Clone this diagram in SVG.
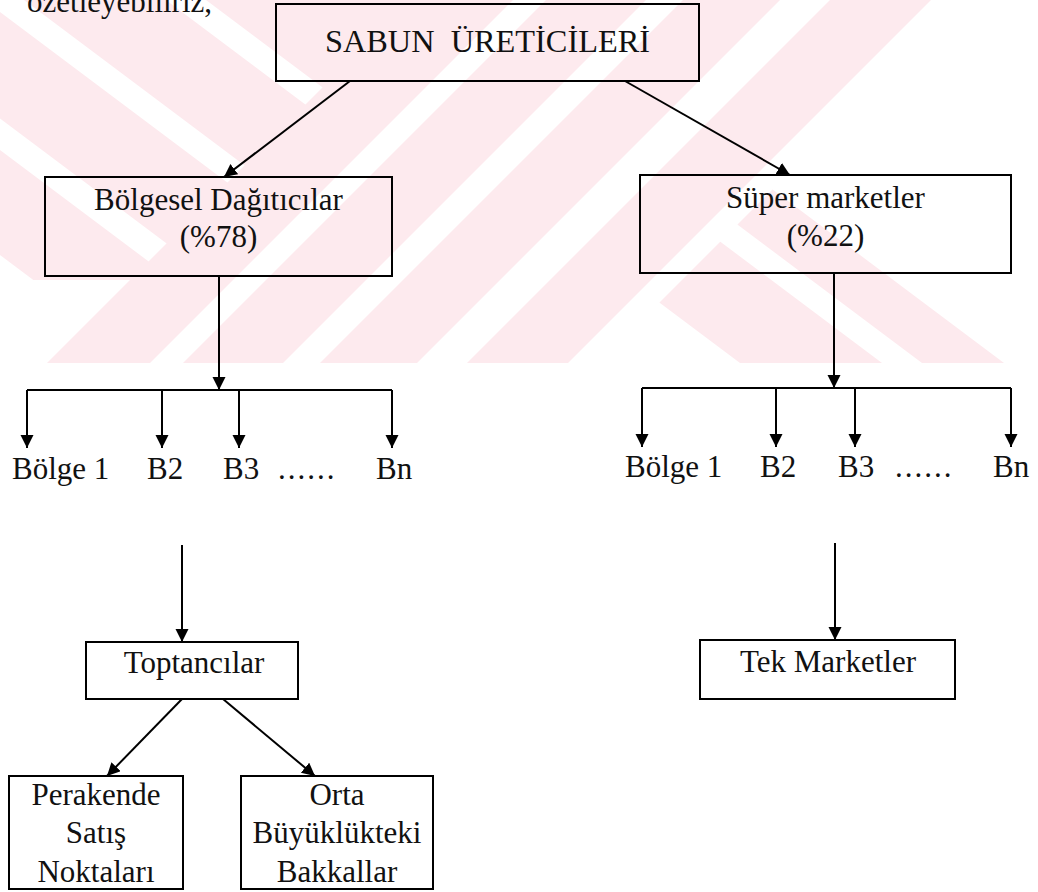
<svg xmlns="http://www.w3.org/2000/svg" width="1038" height="892" viewBox="0 0 1038 892">
  <style>
    .box { fill: none; stroke: #000; stroke-width: 2; }
    .ln { fill: none; stroke: #000; stroke-width: 2; }
    .arr { marker-end: url(#ah); }
    text { font-family: "Liberation Serif", "Times New Roman", serif; font-size: 31px; fill: #111; }
    .c { text-anchor: middle; }
    .wm { fill: #fdeaee; }
  </style>
  <defs>
    <marker id="ah" markerUnits="userSpaceOnUse" markerWidth="14" markerHeight="14" refX="13" refY="6.5" orient="auto">
      <path d="M0,0 L13,6.5 L0,13 z" fill="#000"/>
    </marker>
    <clipPath id="wmClip"><rect x="0" y="0" width="1038" height="363"/></clipPath>
    <clipPath id="leftArm"><polygon points="0,0 420,0 140,280 0,280"/></clipPath>
    <clipPath id="rightArm"><polygon points="962,0 1038,0 1038,363 599,363"/></clipPath>
  </defs>

  <g id="watermark" clip-path="url(#wmClip)">
    <g id="wm-slash">
      <polygon class="wm" points="410,0 513,0 150,363 47,363"/>
      <polygon class="wm" points="546,0 646,0 283,363 183,363"/>
      <polygon class="wm" points="683,0 780,0 417,363 320,363"/>
      <polygon class="wm" points="830,0 931,0 568,363 467,363"/>
    </g>
    <g id="wm-left" clip-path="url(#leftArm)">
      <polygon class="wm" points="206,0 700,0 1184,363 690,363"/>
      <polygon class="wm" points="24,0 166,0 650,363 508,363"/>
      <polygon class="wm" points="-158,0 -16,0 468,363 326,363"/>
      <polygon class="wm" points="-340,0 -200,0 284,363 144,363"/>
    </g>
    <g id="wm-right" clip-path="url(#rightArm)">
      <polygon class="wm" points="438,0 520,0 1004,363 922,363"/>
      <polygon class="wm" points="256,0 398,0 882,363 740,363"/>
    </g>
  </g>

  <text id="intro" x="27" y="12">özetleyebiliriz,</text>

  <g id="connectors">
    <line class="ln arr" x1="350" y1="81" x2="224" y2="177"/>
    <line class="ln arr" x1="625" y1="81" x2="790" y2="175"/>

    <line class="ln arr" x1="219" y1="276" x2="219" y2="390"/>
    <line class="ln" x1="27" y1="390" x2="392" y2="390"/>
    <line class="ln arr" x1="27" y1="390" x2="27" y2="448"/>
    <line class="ln arr" x1="162" y1="390" x2="162" y2="448"/>
    <line class="ln arr" x1="239" y1="390" x2="239" y2="448"/>
    <line class="ln arr" x1="392" y1="390" x2="392" y2="448"/>

    <line class="ln arr" x1="834" y1="273" x2="834" y2="388"/>
    <line class="ln" x1="642" y1="388" x2="1011" y2="388"/>
    <line class="ln arr" x1="642" y1="388" x2="642" y2="447"/>
    <line class="ln arr" x1="776" y1="388" x2="776" y2="447"/>
    <line class="ln arr" x1="855" y1="388" x2="855" y2="447"/>
    <line class="ln arr" x1="1011" y1="388" x2="1011" y2="447"/>

    <line class="ln arr" x1="182" y1="545" x2="182" y2="642"/>
    <line class="ln arr" x1="835" y1="543" x2="835" y2="640"/>

    <line class="ln arr" x1="182" y1="699" x2="107" y2="776"/>
    <line class="ln arr" x1="223" y1="699" x2="315" y2="776"/>
  </g>

  <g id="n-sabun">
    <rect class="box" x="276" y="4" width="423" height="77"/>
    <text class="c" x="487.5" y="52" textLength="325" lengthAdjust="spacingAndGlyphs" xml:space="preserve">SABUN  ÜRETİCİLERİ</text>
  </g>

  <g id="n-bolgesel">
    <rect class="box" x="45" y="177" width="347" height="99"/>
    <text class="c" x="218.5" y="210">Bölgesel Dağıtıcılar</text>
    <text class="c" x="218.5" y="247">(%78)</text>
  </g>

  <g id="n-super">
    <rect class="box" x="640" y="175" width="371" height="98"/>
    <text class="c" x="825.5" y="208">Süper marketler</text>
    <text class="c" x="825.5" y="246">(%22)</text>
  </g>

  <g id="n-left-regions">
    <text x="12" y="479">Bölge 1</text>
    <text x="147" y="479">B2</text>
    <text x="223" y="479">B3</text>
    <text x="278" y="479" letter-spacing="2">......</text>
    <text x="376" y="479">Bn</text>
  </g>

  <g id="n-right-regions">
    <text x="625" y="477">Bölge 1</text>
    <text x="760" y="477">B2</text>
    <text x="838" y="477">B3</text>
    <text x="895" y="477" letter-spacing="2">......</text>
    <text x="993" y="477">Bn</text>
  </g>

  <g id="n-toptancilar">
    <rect class="box" x="86" y="642" width="212" height="57"/>
    <text class="c" x="194" y="673">Toptancılar</text>
  </g>

  <g id="n-tek">
    <rect class="box" x="700" y="640" width="255" height="59"/>
    <text class="c" x="828" y="672">Tek Marketler</text>
  </g>

  <g id="n-perakende">
    <rect class="box" x="9" y="776" width="174" height="113"/>
    <text class="c" x="96" y="805">Perakende</text>
    <text class="c" x="96" y="843">Satış</text>
    <text class="c" x="96" y="882">Noktaları</text>
  </g>

  <g id="n-orta">
    <rect class="box" x="241" y="776" width="192" height="113"/>
    <text class="c" x="337" y="805">Orta</text>
    <text class="c" x="337" y="843">Büyüklükteki</text>
    <text class="c" x="337" y="882">Bakkallar</text>
  </g>
</svg>
